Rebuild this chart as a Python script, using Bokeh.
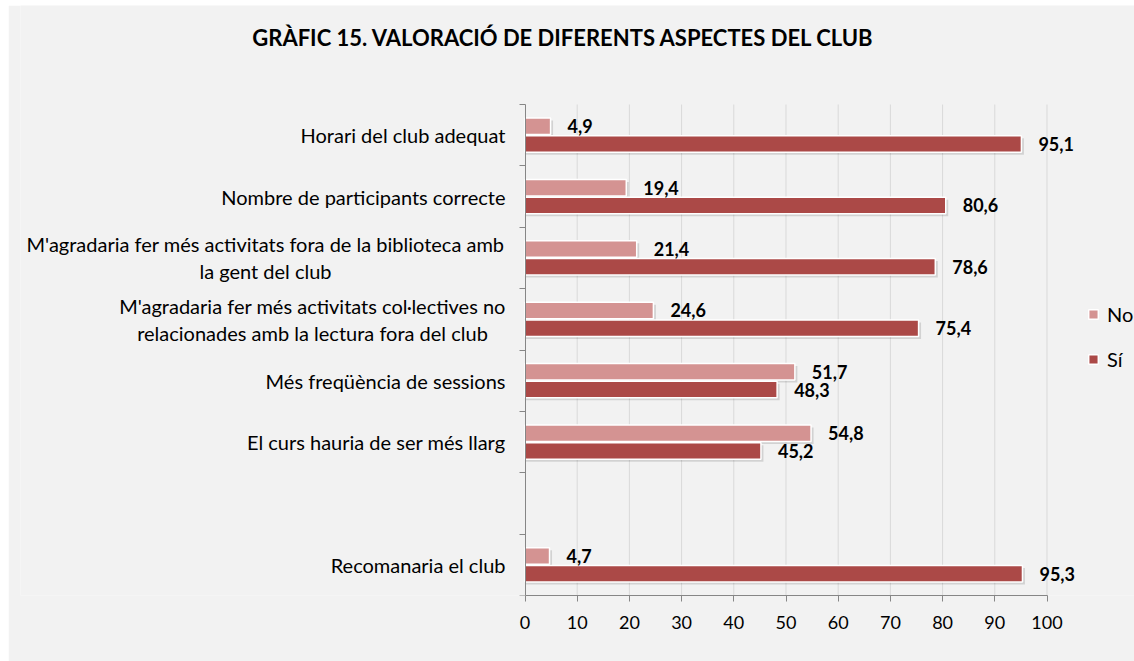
from bokeh.plotting import figure
from bokeh.models import ColumnDataSource, LabelSet, Label, Legend, LegendItem, FixedTicker
from bokeh.core.properties import value
from bokeh.embed import file_html
from bokeh.resources import INLINE

# ---------------- data ----------------
title_text = "GRÀFIC 15. VALORACIÓ DE DIFERENTS ASPECTES DEL CLUB"
categories = [
    "Horari del club adequat",
    "Nombre de participants correcte",
    "M'agradaria fer més activitats fora de la biblioteca amb la gent del club",
    "M'agradaria fer més activitats col·lectives no relacionades amb la lectura fora del club",
    "Més freqüència de sessions",
    "El curs hauria de ser més llarg",
    "",
    "Recomanaria el club",
]
category_lines = [
    ["Horari del club adequat"],
    ["Nombre de participants correcte"],
    ["M'agradaria fer més activitats fora de la biblioteca amb", "la gent del club"],
    ["M'agradaria fer més activitats col·lectives no", "relacionades amb la lectura fora del club"],
    ["Més freqüència de sessions"],
    ["El curs hauria de ser més llarg"],
    [],
    ["Recomanaria el club"],
]
no_values = [4.9, 19.4, 21.4, 24.6, 51.7, 54.8, None, 4.7]
si_values = [95.1, 80.6, 78.6, 75.4, 48.3, 45.2, None, 95.3]
series_names = ["No", "Sí"]
x_ticks = [0, 10, 20, 30, 40, 50, 60, 70, 80, 90, 100]

# ---------------- style / layout (page pixel constants) ----------------
FONT = "Lato"
BG = "#f2f2f2"
NO_COLOR = "#d49392"
SI_COLOR = "#ab4947"
AXIS_COLOR = "#868686"
GRID_COLOR = "#d9d9d9"

OX, OY = 8, 5                      # figure origin on the page
W, H = 1134 - OX, 661 - OY
zero_x = 524.5 - OX                # x = 0 in figure pixels
px_x = 5.22                        # pixels per percent
plot_top = 104 - OY                # top of category bands
plot_bottom = 595 - OY             # x axis line
n = len(categories)
px_y = (plot_bottom - plot_top) / n
frame_left = 12
bar_h = 0.27
bar_off = 0.145

x_start = -(zero_x - frame_left) / px_x
x_end = (W - zero_x) / px_x
y_start = -0.5
y_end = n - 0.5 + plot_top / px_y

p = figure(width=W, height=H, x_range=(x_start, x_end), y_range=(y_start, y_end),
           output_backend="svg", toolbar_location=None,
           min_border_left=frame_left, min_border_right=0,
           min_border_top=0, min_border_bottom=H - plot_bottom)
p.margin = (OY, 0, 0, OX)
p.background_fill_color = BG
p.border_fill_color = BG
p.outline_line_color = None
p.xgrid.visible = False
p.ygrid.visible = False

# x axis
p.xaxis.bounds = (x_ticks[0], x_ticks[-1])
p.xaxis.ticker = FixedTicker(ticks=x_ticks)
p.xaxis.axis_line_color = AXIS_COLOR
p.xaxis.major_tick_line_color = AXIS_COLOR
p.xaxis.major_tick_out = 6
p.xaxis.major_tick_in = 0
p.xaxis.minor_tick_line_color = None
p.xaxis.major_label_text_font = FONT
p.xaxis.major_label_text_font_size = "18px"
p.xaxis.major_label_text_color = "#000000"
p.xaxis.major_label_standoff = 14

# y axis at x = 0, tick marks at band boundaries
boundaries = [b - 0.5 for b in range(n + 1)]
p.yaxis.fixed_location = 0
p.yaxis.bounds = (boundaries[0], boundaries[-1])
p.yaxis.ticker = FixedTicker(ticks=[], minor_ticks=boundaries)
p.yaxis.axis_line_color = AXIS_COLOR
p.yaxis.major_tick_line_color = None
p.yaxis.major_tick_out = 0
p.yaxis.major_label_standoff = 0
p.yaxis.minor_tick_line_color = AXIS_COLOR
p.yaxis.minor_tick_out = 6
p.yaxis.minor_tick_in = 0
p.yaxis.major_label_text_color = None

# vertical gridlines from the tick list
p.segment(x0=x_ticks[1:], x1=x_ticks[1:], y0=boundaries[0], y1=boundaries[-1],
          line_color=GRID_COLOR, line_width=1)

# bar data
idx = [i for i in range(n) if no_values[i] is not None]
centers = [n - 1 - i for i in idx]

def fmt(v):
    return f"{v:.1f}".replace(".", ",")

no_src = ColumnDataSource(dict(
    y=[c + bar_off for c in centers],
    val=[no_values[i] for i in idx],
    txt=[fmt(no_values[i]) for i in idx],
))
si_src = ColumnDataSource(dict(
    y=[c - bar_off for c in centers],
    val=[si_values[i] for i in idx],
    txt=[fmt(si_values[i]) for i in idx],
))

# soft shadows
for src in (no_src, si_src):
    sh = ColumnDataSource(dict(y=[v - 2.5 / px_y for v in src.data["y"]],
                               right=[v + 2.5 / px_x for v in src.data["val"]]))
    p.hbar(y="y", left=0, right="right", height=bar_h, source=sh,
           fill_color="#000000", fill_alpha=0.13, line_color=None)

r_no = p.hbar(y="y", left=0, right="val", height=bar_h, source=no_src,
              fill_color=NO_COLOR, line_color="white", line_width=1.5)
r_si = p.hbar(y="y", left=0, right="val", height=bar_h, source=si_src,
              fill_color=SI_COLOR, line_color="white", line_width=1.5)

for src in (no_src, si_src):
    p.add_layout(LabelSet(x="val", y="y", text="txt", source=src, x_offset=17,
                          text_align="left", text_baseline="middle",
                          text_font=value(FONT), text_font_style="bold",
                          text_font_size="18px", text_color="#000000"))

# category labels
label_right = 505 - 524.5                    # right edge of single-line labels
wrap_center = {2: 265 - 524.5, 3: 312 - 524.5}   # centre of wrapped labels
line_gap = 13.5 / px_y
single = dict(y=[], t=[])
for i, lines in enumerate(category_lines):
    c = n - 1 - i
    if len(lines) == 1:
        single["y"].append(c)
        single["t"].append(lines[0])
    elif len(lines) == 2:
        for k, line in enumerate(lines):
            p.add_layout(Label(x=0, y=c + line_gap * (1 - 2 * k), text=line,
                               x_offset=wrap_center[i], text_align="center",
                               text_baseline="middle", text_font=FONT,
                               text_font_size="20px", text_color="#000000"))
p.add_layout(LabelSet(x=0, y="y", text="t", source=ColumnDataSource(single),
                      x_offset=label_right, text_align="right", text_baseline="middle",
                      text_font=value(FONT), text_font_size="20px", text_color="#000000"))

# title
title_cx = 563 - OX
title_cy = 37 - OY
p.add_layout(Label(x=(title_cx - zero_x) / px_x,
                   y=n - 0.5 + (plot_top - title_cy) / px_y,
                   text=title_text, text_align="center", text_baseline="middle",
                   text_font=FONT, text_font_style="bold", text_font_size="22px",
                   text_color="#000000"))

# legend
legend = Legend(items=[LegendItem(label=series_names[0], renderers=[r_no]),
                       LegendItem(label=series_names[1], renderers=[r_si])],
                location=(1087 - OX - frame_left, plot_bottom - (371 - OY)),
                glyph_width=12, glyph_height=12, label_standoff=8, spacing=21,
                label_height=24, padding=0, margin=0,
                border_line_color=None, background_fill_alpha=0,
                label_text_font=FONT, label_text_font_size="20px",
                label_text_color="#000000")
p.add_layout(legend)

open("out.html", "w").write(file_html(p, INLINE))
